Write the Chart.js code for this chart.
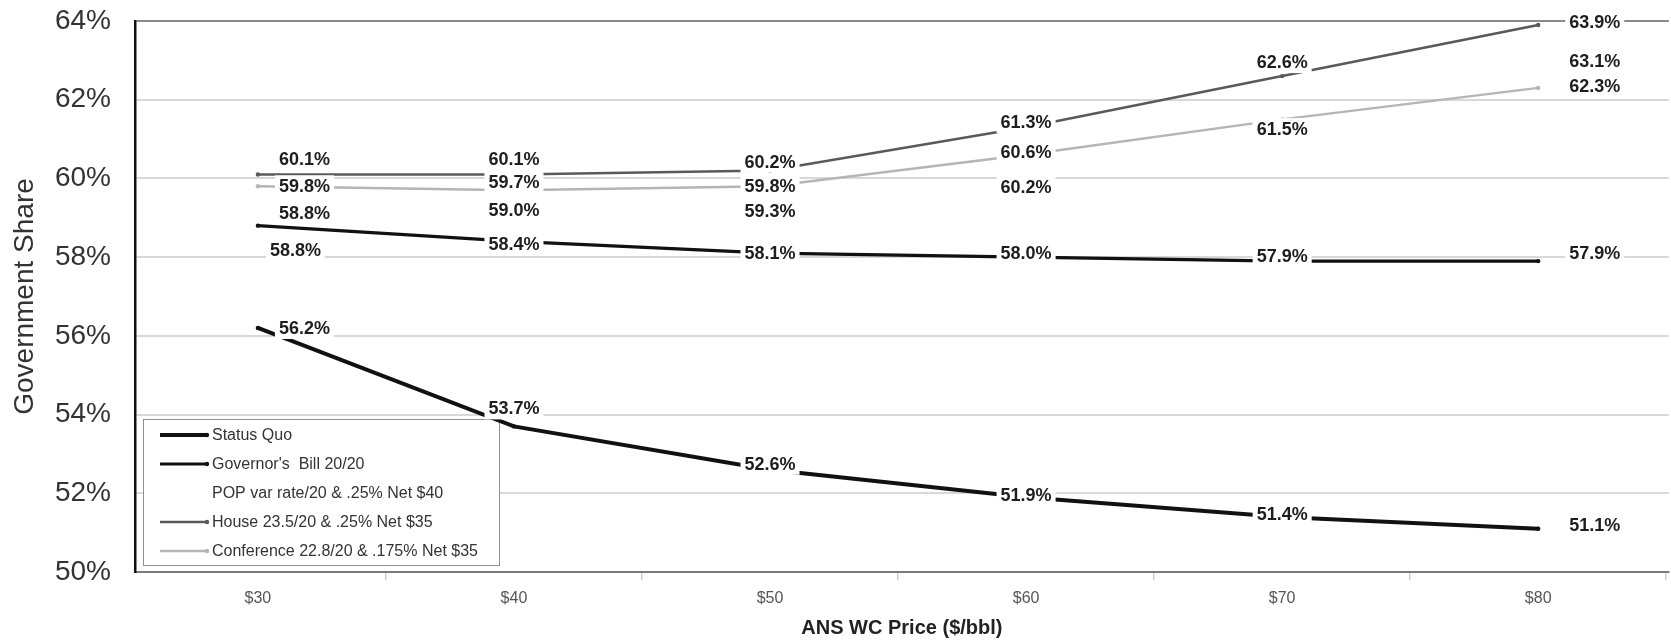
<!DOCTYPE html>
<html>
<head>
<meta charset="utf-8">
<script src="https://cdn.jsdelivr.net/npm/chart.js@4.4.1/dist/chart.umd.min.js"></script>
<style>
  html, body { margin: 0; padding: 0; background: #ffffff; }
  #wrap { position: relative; width: 1671px; height: 640px; }
</style>
</head>
<body>
<div id="wrap"><canvas id="chart" width="1671" height="640"></canvas></div>
<script>
// ---- data ----
const categories = ['$30', '$40', '$50', '$60', '$70', '$80'];
const prices = [30, 40, 50, 60, 70, 80];
const statusQuo = [56.2, 53.7, 52.6, 51.9, 51.4, 51.1];
const governorsBill = [58.8, 58.4, 58.1, 58.0, 57.9, 57.9];
const popVarRate = [58.8, 59.0, 59.3, 60.2, 61.5, 63.1];
const house = [60.1, 60.1, 60.2, 61.3, 62.6, 63.9];
const conference = [59.8, 59.7, 59.8, 60.6, 61.5, 62.3];
const shareTicks = [50, 52, 54, 56, 58, 60, 62, 64];
const seriesNames = [
  'Status Quo',
  "Governor's  Bill 20/20",
  'POP var rate/20 & .25% Net $40',
  'House 23.5/20 & .25% Net $35',
  'Conference 22.8/20 & .175% Net $35'
];
const seriesValues = [statusQuo, governorsBill, popVarRate, house, conference];

// ---- styles (line look and value-label nudges, in px) ----
const seriesStyles = [
  { color: '#111111', width: 4.0, labelDy: [0, -18, -6, -2, -3, -4] },
  { color: '#111111', width: 3.2, labelDy: [24, 3, 0, -4, -5, -8], firstDx: 12 },
  { color: 'rgba(255,255,255,0)', width: 2.0, labelDy: [-13, -8, 5, 16, 10, 5] },
  { color: '#595959', width: 2.6, labelDy: [-15, -15, -9, -5, -14, -3] },
  { color: '#b5b5b5', width: 2.4, labelDy: [0, -8, 0, -3, 10, -2] }
];

const FONT = '"Liberation Sans", Arial, sans-serif';
Chart.defaults.font.family = FONT;

// value labels with a white backing, like the printed chart
const pointLabels = {
  id: 'pointLabels',
  afterDatasetsDraw(chart) {
    const ctx = chart.ctx;
    ctx.save();
    ctx.font = 'bold 18px ' + FONT;
    ctx.textBaseline = 'middle';
    [2, 4, 3, 1, 0].forEach(di => {
      const meta = chart.getDatasetMeta(di);
      const style = seriesStyles[di];
      const last = meta.data.length - 1;
      meta.data.forEach((pt, i) => {
        const v = chart.data.datasets[di].data[i].y;
        const text = v.toFixed(1) + '%';
        const w = ctx.measureText(text).width;
        let left;
        if (i === 0) left = pt.x + (style.firstDx !== undefined ? style.firstDx : 21);
        else if (i === last) left = pt.x + 31;
        else left = pt.x - w / 2;
        const cy = pt.y + style.labelDy[i];
        ctx.fillStyle = '#ffffff';
        ctx.fillRect(left - 4, cy - 11, w + 8, 22);
        ctx.fillStyle = '#1e1e1e';
        ctx.fillText(text, left, cy + 1);
      });
    });
    ctx.restore();
  }
};

// boxed legend sitting inside the plot, lower left
const boxLegend = {
  id: 'boxLegend',
  beforeDatasetsDraw(chart) {
    const ctx = chart.ctx;
    const area = chart.chartArea;
    const x0 = area.left + 8, w = 356, h = 146;
    const y0 = area.bottom - h - 7;
    ctx.save();
    ctx.fillStyle = '#ffffff';
    ctx.fillRect(x0, y0, w, h);
    ctx.strokeStyle = '#8f8f8f';
    ctx.lineWidth = 1;
    ctx.strokeRect(x0 + 0.5, y0 + 0.5, w, h);
    ctx.font = '16px ' + FONT;
    ctx.textBaseline = 'middle';
    chart.data.datasets.forEach((ds, i) => {
      const y = y0 + 16 + i * 29;
      const st = seriesStyles[i];
      ctx.strokeStyle = st.color;
      ctx.lineWidth = st.width;
      ctx.beginPath();
      ctx.moveTo(x0 + 17, y);
      ctx.lineTo(x0 + 63, y);
      ctx.stroke();
      ctx.fillStyle = st.color;
      ctx.beginPath();
      ctx.arc(x0 + 64, y, 2.2, 0, Math.PI * 2);
      ctx.fill();
      ctx.fillStyle = '#333333';
      ctx.fillText(ds.label, x0 + 69, y + 1);
    });
    ctx.restore();
  }
};

const datasets = seriesNames.map((name, i) => ({
  label: name,
  data: prices.map((p, k) => ({ x: p, y: seriesValues[i][k] })),
  borderColor: seriesStyles[i].color,
  backgroundColor: seriesStyles[i].color,
  borderWidth: seriesStyles[i].width,
  pointRadius: 2.2,
  pointHoverRadius: 2.2,
  pointBorderWidth: 0,
  pointBackgroundColor: seriesStyles[i].color,
  tension: 0,
  fill: false
}));

new Chart(document.getElementById('chart'), {
  type: 'line',
  data: { datasets },
  plugins: [boxLegend, pointLabels],
  options: {
    responsive: false,
    animation: false,
    layout: { padding: { top: 21, right: 0, bottom: 0, left: 0 } },
    plugins: { legend: { display: false }, tooltip: { enabled: false } },
    scales: {
      x: {
        type: 'linear',
        min: 25.2,
        max: 85.1,
        afterBuildTicks: s => {
          const t = [];
          for (let v = 30; v <= 85; v += 5) t.push({ value: v });
          s.ticks = t;
        },
        afterFit: s => {
          s.height = 68;
          s.paddingLeft = 0;
          s.paddingRight = 0;
        },
        ticks: {
          autoSkip: false,
          maxRotation: 0,
          padding: 9,
          color: '#555555',
          font: { size: 16 },
          callback: v => {
            const k = prices.indexOf(v);
            return k >= 0 ? categories[k] : '';
          }
        },
        grid: {
          drawOnChartArea: false,
          drawTicks: true,
          tickLength: 8,
          lineWidth: 1.5,
          color: c => (c.tick && c.tick.value % 10 === 5) ? '#cccccc' : 'rgba(0,0,0,0)'
        },
        border: { color: '#7a7a7a', width: 2 },
        title: {
          display: true,
          text: 'ANS WC Price ($/bbl)',
          color: '#222222',
          font: { size: 20, weight: 'bold' },
          padding: { top: 0, bottom: 0 }
        }
      },
      y: {
        min: 50,
        max: 64,
        afterBuildTicks: s => { s.ticks = shareTicks.map(v => ({ value: v })); },
        afterFit: s => {
          s.width = 135;
          s.paddingTop = 0;
          s.paddingBottom = 0;
        },
        ticks: {
          padding: 24,
          color: '#333333',
          font: { size: 28 },
          callback: v => v + '%'
        },
        grid: {
          drawTicks: false,
          lineWidth: 2,
          color: c => {
            if (!c.tick) return '#d6d6d6';
            if (c.tick.value === 64) return '#8a8a8a';
            if (c.tick.value === 50) return 'rgba(0,0,0,0)';
            return '#d8d8d8';
          }
        },
        border: { color: '#111111', width: 2.5 },
        title: {
          display: true,
          text: 'Government Share',
          color: '#333333',
          font: { size: 28 },
          padding: { top: 8, bottom: 0 }
        }
      }
    }
  }
});
</script>
</body>
</html>
